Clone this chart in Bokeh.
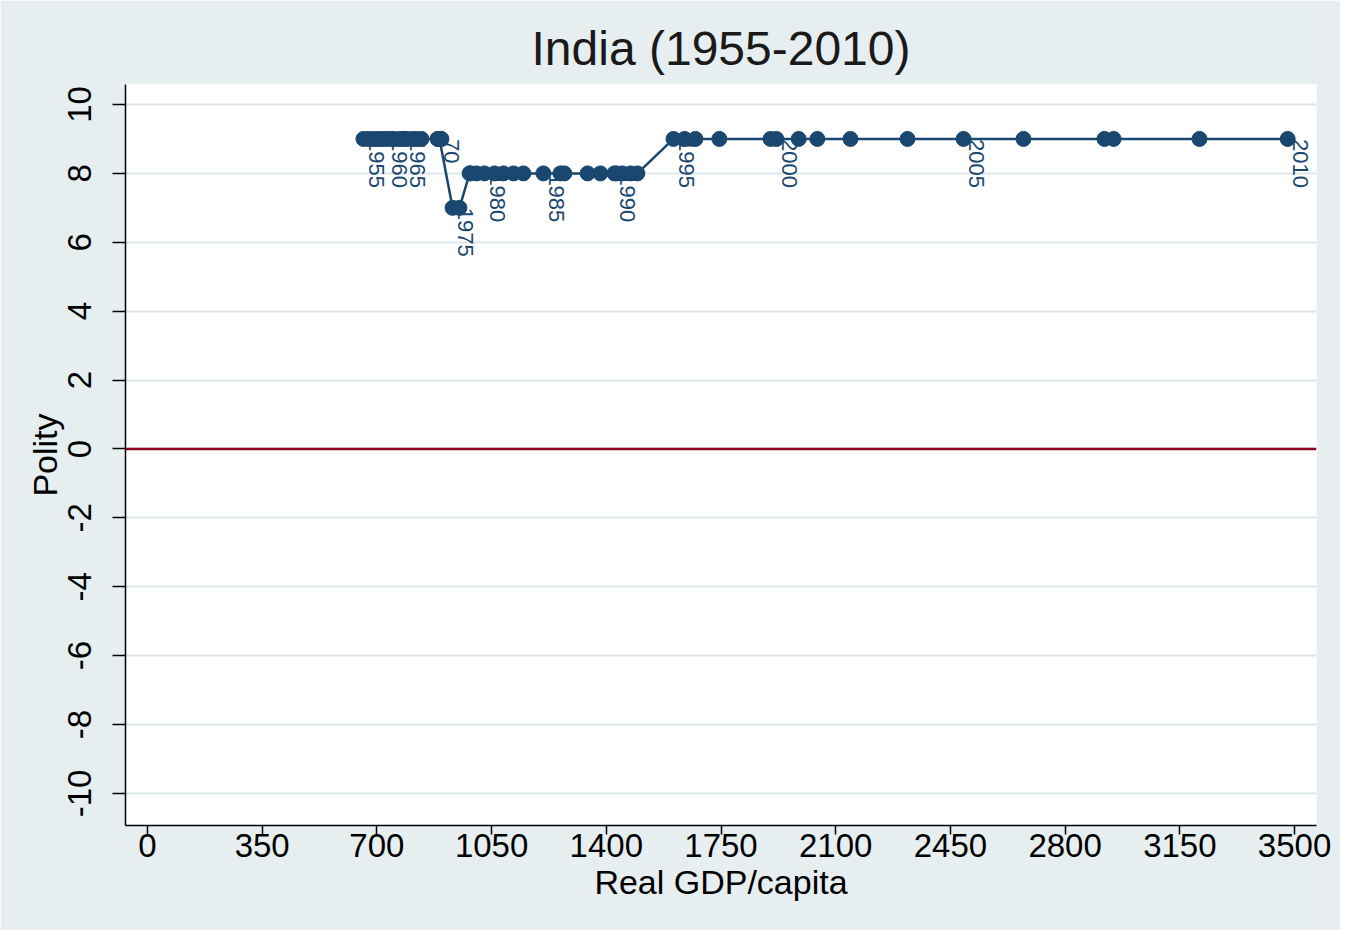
import math
from bokeh.plotting import figure
from bokeh.models import Range1d, FixedTicker, ColumnDataSource, Span
from bokeh.embed import file_html
from bokeh.resources import INLINE
from bokeh.core.properties import value

# ---- data ----
years = list(range(1955, 2011))
gdp = [659, 674, 690, 705, 717, 729, 742, 751, 769, 793,
       784, 781, 809, 821, 836, 888, 894, 885, 897, 891,
       931, 952,
       983, 1004, 986, 1028, 1059, 1086, 1117, 1147, 1208, 1260,
       1272, 1343, 1382, 1425, 1431, 1449, 1474, 1495,
       1605, 1639, 1672, 1745, 1901, 1919, 1987, 2044, 2145, 2319,
       2490, 2673, 2920, 2948, 3210, 3479]
polity = [9, 9, 9, 9, 9, 9, 9, 9, 9, 9,
          9, 9, 9, 9, 9, 9, 9, 9, 9, 9,
          7, 7,
          8, 8, 8, 8, 8, 8, 8, 8, 8, 8,
          8, 8, 8, 8, 8, 8, 8, 8,
          9, 9, 9, 9, 9, 9, 9, 9, 9, 9,
          9, 9, 9, 9, 9, 9]

label_years = [1955, 1960, 1965, 1970, 1975, 1980, 1985, 1990, 1995, 2000, 2005, 2010]
label_texts = ["1955", "1960", "1965", "70", "1975", "1980", "1985", "1990", "1995", "2000", "2005", "2010"]

x_ticks = [0, 350, 700, 1050, 1400, 1750, 2100, 2450, 2800, 3150, 3500]
y_ticks = [-10, -8, -6, -4, -2, 0, 2, 4, 6, 8, 10]
y_tick_labels = ["-10", "-8", "-6", "-4", "-2", "0", "2", "4", "6", "8", "10"]

title_text = "India (1955-2010)"
x_title = "Real GDP/capita"
y_title = "Polity"

# ---- styles ----
BG = "#e6eef0"
NAVY = "#1a476f"
RED = "#900021"
GRID = "#dde7eb"
FONT = "Liberation Sans"

src = ColumnDataSource(dict(year=years, gdp=gdp, polity=polity))
lx = [gdp[years.index(y)] for y in label_years]
ly = [polity[years.index(y)] for y in label_years]
lsrc = ColumnDataSource(dict(x=lx, y=ly, t=label_texts))

p = figure(width=1340, height=930, output_backend="svg", toolbar_location=None,
           x_range=Range1d(-67, 3567), y_range=Range1d(-10.93, 10.58),
           min_border_left=125, min_border_right=24, min_border_top=84, min_border_bottom=105,
           background_fill_color="white", border_fill_color=BG,
           title=title_text)
p.outline_line_color = None

p.title.align = "center"
p.title.text_font = FONT
p.title.text_font_size = "48px"
p.title.text_font_style = "normal"
p.title.text_color = "#1a1a1a"
p.title.standoff = 19

p.xgrid.visible = False
p.ygrid.ticker = FixedTicker(ticks=y_ticks)
p.ygrid.grid_line_color = GRID
p.ygrid.grid_line_width = 2

for ax in (p.xaxis, p.yaxis):
    ax.axis_line_color = "black"
    ax.axis_line_width = 1.5
    ax.major_tick_line_color = "black"
    ax.major_tick_line_width = 1.5
    ax.major_tick_in = 0
    ax.minor_tick_line_color = None
    ax.major_label_text_font = FONT
    ax.major_label_text_font_size = "33px"
    ax.major_label_text_color = "black"
    ax.axis_label_text_font = FONT
    ax.axis_label_text_font_size = "34px"
    ax.axis_label_text_font_style = "normal"
    ax.axis_label_text_color = "black"

p.xaxis.ticker = FixedTicker(ticks=x_ticks)
p.xaxis.major_tick_out = 9
p.xaxis.major_label_standoff = -1
p.xaxis.axis_label = x_title
p.xaxis.axis_label_standoff = 3

p.yaxis.ticker = FixedTicker(ticks=y_ticks)
p.yaxis.major_label_overrides = {t: s for t, s in zip(y_ticks, y_tick_labels)}
p.yaxis.major_label_orientation = "vertical"
p.yaxis.major_tick_out = 13
p.yaxis.major_label_standoff = 21
p.yaxis.axis_label = y_title
p.yaxis.axis_label_standoff = 2

p.add_layout(Span(location=0, dimension="width", line_color=RED, line_width=2.5))

p.line(x="gdp", y="polity", source=src, line_color=NAVY, line_width=2.5)
p.text(x="x", y="y", text="t", source=lsrc, angle=-math.pi / 2,
       x_offset=13, y_offset=0, text_align="left", text_baseline="middle",
       text_font=value(FONT), text_font_size="22px", text_color=NAVY)
p.scatter(x="gdp", y="polity", source=src, size=15, marker="circle",
          fill_color=NAVY, line_color=NAVY)

open("out.html", "w").write(file_html(p, INLINE))
